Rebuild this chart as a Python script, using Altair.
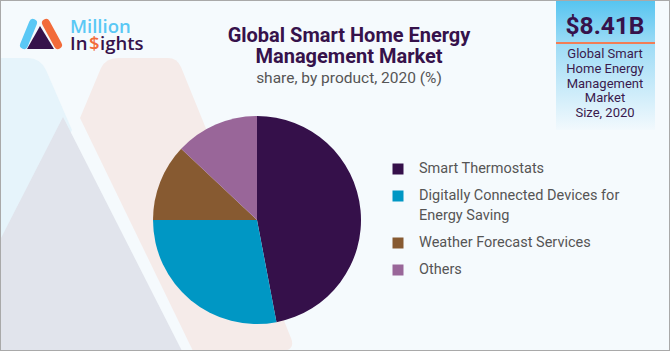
import base64
import altair as alt
import pandas as pd

# ---- data ----
categories = [
    "Smart Thermostats",
    "Digitally Connected Devices for Energy Saving",
    "Weather Forecast Services",
    "Others",
]
legend_lines = [
    ["Smart Thermostats"],
    ["Digitally Connected Devices for", "Energy Saving"],
    ["Weather Forecast Services"],
    ["Others"],
]
shares = [47, 28, 12, 13]
colors = ["#35104a", "#0097c4", "#875a31", "#996699"]

title_lines = ["Global Smart Home Energy", "Management Market"]
subtitle = "share, by product, 2020 (%)"
market_size = "$8.41B"
box_lines = ["Global Smart", "Home Energy", "Management", "Market", "Size, 2020"]

W, H = 670, 351
PURPLE = "#36124b"
ENTRY_GAP = 27.0   # px between legend entries
LINE_H = 20.0      # px between wrapped label lines
LEG_TOP = 169

# ---- decorative background (not data) ----
svg = f"""<svg xmlns='http://www.w3.org/2000/svg' width='{W}' height='{H}'>
<defs><linearGradient id='g' x1='0' y1='0' x2='0' y2='1'>
<stop offset='0' stop-color='#55c4f0'/><stop offset='0.35' stop-color='#9fdcf6'/>
<stop offset='1' stop-color='#f2f9fd'/></linearGradient></defs>
<rect width='{W}' height='{H}' fill='#f5fafd'/>
<path d='M0,58 L28,58 Q40,58 46,70 L72,130 L0,270 Z' fill='#e6f4fb'/>
<path d='M80,118 L101,68 Q106,58 118,58 L168,58 Q177,58 181,67 L291,338 Q296,351 280,351 L193,351 Z' fill='#f5ebe9'/>
<path d='M63,117 L0,240 L0,351 L182,351 Z' fill='#e1e4ec'/>
<rect x='556' y='0' width='99' height='130' fill='url(#g)'/>
<rect x='556' y='42' width='99' height='2' fill='#f27d55'/>
<line x1='24' y1='45' x2='33' y2='23' stroke='#5ac8f5' stroke-width='8' stroke-linecap='round'/>
<line x1='46' y1='23' x2='58' y2='45' stroke='#f26b3a' stroke-width='8' stroke-linecap='round'/>
<path d='M40,26 L27,49 L54,49 Z' fill='{PURPLE}'/>
<rect x='0.5' y='0.5' width='{W-1}' height='{H-1}' fill='none' stroke='#a9a9a9'/>
</svg>"""
url = "data:image/svg+xml;base64," + base64.b64encode(svg.encode()).decode()

bg = alt.Chart(pd.DataFrame({"u": [url]})).mark_image(
    width=W, height=H, align="left", baseline="top", aspect=False
).encode(x=alt.value(0), y=alt.value(0), url="u:N")

df = pd.DataFrame({"product": categories, "share": shares, "order": list(range(len(categories)))})

color_scale = alt.Scale(domain=categories, range=colors)

pie = alt.Chart(df).mark_arc(radius=104).encode(
    theta=alt.Theta("share:Q", stack=True),
    order=alt.Order("order:Q"),
    color=alt.Color("product:N", sort=categories, scale=color_scale, legend=None),
    x=alt.value(257),
    y=alt.value(220),
)

# ---- legend built from the same categories ----
slots, acc = [], 0.0
for i, lines in enumerate(legend_lines):
    slots.append(i + acc)
    acc += (len(lines) - 1) * LINE_H / ENTRY_GAP
leg_df = pd.DataFrame({"product": categories, "slot": slots, "label": legend_lines})
last = len(categories) - 1
y_leg = alt.Y(
    "slot:Q",
    axis=None,
    scale=alt.Scale(domain=[0, slots[last]], range=[LEG_TOP, LEG_TOP + ENTRY_GAP * slots[last]]),
)
leg_sym = alt.Chart(leg_df).mark_square(size=121, opacity=1).encode(
    x=alt.value(398),
    y=y_leg,
    color=alt.Color("product:N", sort=categories, scale=color_scale, legend=None),
)
leg_txt = alt.Chart(leg_df).mark_text(
    align="left", baseline="line-top", dy=-LINE_H / 2, lineHeight=LINE_H,
    font="Roboto", fontSize=14.5, color="#555555",
).encode(x=alt.value(419), y=y_leg, text="label")


def text_layer(txt, x, y, size, color, weight="normal", font="Roboto", align="center"):
    return alt.Chart(pd.DataFrame({"t": [txt]})).mark_text(
        align=align, baseline="middle", fontSize=size, color=color,
        fontWeight=weight, font=font,
    ).encode(text="t:N", x=alt.value(x), y=alt.value(y))


layers = [bg, pie, leg_sym, leg_txt]
layers.append(text_layer(title_lines[0], 349, 36, 20, PURPLE, "bold"))
layers.append(text_layer(title_lines[1], 349, 57, 20, PURPLE, "bold"))
layers.append(text_layer(subtitle, 349, 78, 15.5, "#555555"))
layers.append(text_layer(market_size, 605, 27, 24.5, PURPLE, "bold"))
for i, line in enumerate(box_lines):
    layers.append(text_layer(line, 605, 54 + i * 14.8, 13, "#3a1a4d"))
# logo text
layers.append(text_layer("Million", 70, 27, 18.5, "#5ac8f5", 600, "Open Sans", "left"))
layers.append(text_layer("In", 70, 44, 18.5, PURPLE, 600, "Open Sans", "left"))
layers.append(text_layer("$", 89, 44, 18.5, "#f26b3a", 600, "Open Sans", "left"))
layers.append(text_layer("ights", 100, 44, 18.5, PURPLE, 600, "Open Sans", "left"))

chart = alt.layer(*layers).properties(
    width=W, height=H, padding=0, autosize="none", background="#f5fafd"
).configure_view(stroke=None)

chart.save("out.html", embed_options={"renderer": "svg", "actions": False})
